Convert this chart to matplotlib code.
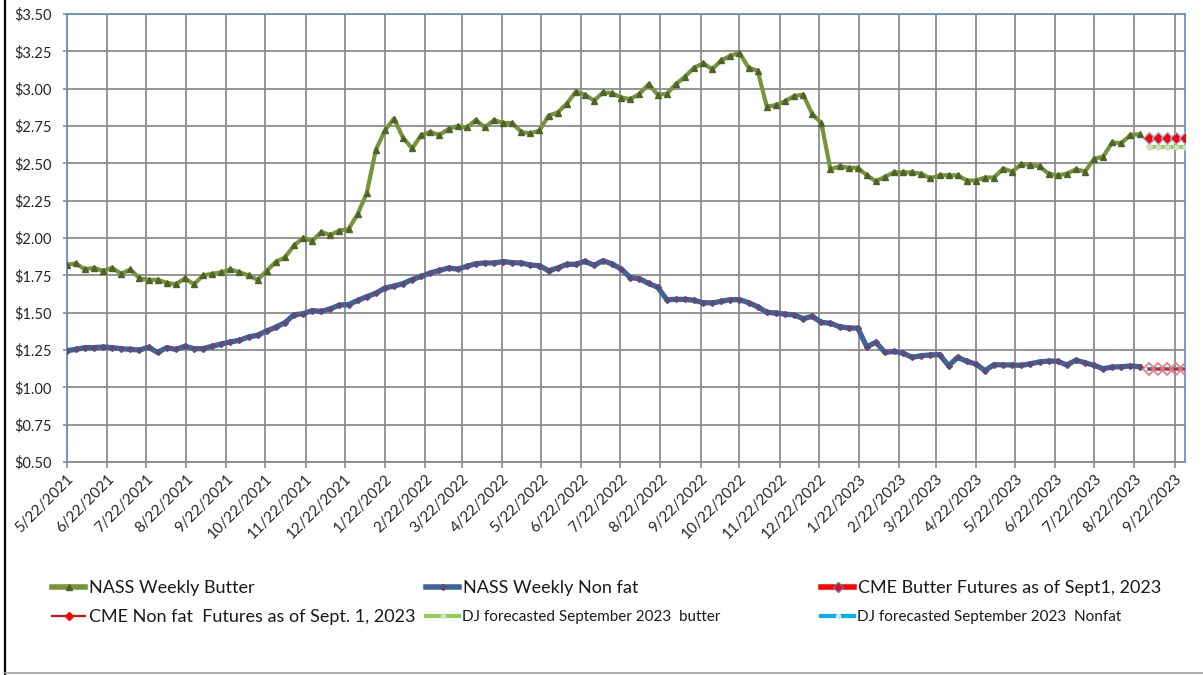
import matplotlib
matplotlib.use("Agg")
import matplotlib.pyplot as plt
import matplotlib.font_manager as fm
from matplotlib.lines import Line2D
from matplotlib.ticker import FuncFormatter
import pandas as pd

# ---------------- data ----------------
nass_start = "2021-05-22"
futures_start = "2023-09-02"

butter = [1.82, 1.83, 1.79, 1.80, 1.78, 1.80, 1.76, 1.79, 1.73, 1.72,
          1.72, 1.70, 1.69, 1.73, 1.69, 1.75, 1.76, 1.77, 1.79, 1.77,
          1.75, 1.72, 1.78, 1.84, 1.87, 1.95, 2.00, 1.98, 2.04, 2.02,
          2.05, 2.06, 2.16, 2.30, 2.59, 2.72, 2.80, 2.67, 2.60, 2.69,
          2.71, 2.69, 2.73, 2.75, 2.74, 2.79, 2.74, 2.79, 2.77, 2.77,
          2.71, 2.70, 2.72, 2.82, 2.84, 2.90, 2.98, 2.96, 2.92, 2.975,
          2.97, 2.94, 2.93, 2.965, 3.03, 2.96, 2.965, 3.03, 3.08, 3.14,
          3.17, 3.13, 3.19, 3.22, 3.24, 3.14, 3.12, 2.88, 2.89, 2.915,
          2.95, 2.96, 2.83, 2.77, 2.46, 2.48, 2.47, 2.47, 2.42, 2.38,
          2.41, 2.44, 2.44, 2.44, 2.43, 2.40, 2.42, 2.42, 2.42, 2.385,
          2.385, 2.405, 2.405, 2.465, 2.445, 2.495, 2.49, 2.48, 2.43, 2.42,
          2.43, 2.46, 2.445, 2.53, 2.545, 2.64, 2.635, 2.69, 2.695]

nonfat = [1.246, 1.254, 1.266, 1.266, 1.270, 1.266, 1.259, 1.254, 1.250, 1.268,
          1.234, 1.266, 1.254, 1.275, 1.259, 1.259, 1.275, 1.290, 1.304, 1.315,
          1.337, 1.349, 1.378, 1.402, 1.433, 1.486, 1.493, 1.514, 1.508, 1.526,
          1.551, 1.554, 1.582, 1.607, 1.630, 1.665, 1.678, 1.695, 1.722, 1.743,
          1.766, 1.783, 1.799, 1.792, 1.810, 1.828, 1.833, 1.833, 1.842, 1.835,
          1.833, 1.819, 1.815, 1.781, 1.799, 1.824, 1.824, 1.844, 1.817, 1.848,
          1.826, 1.792, 1.735, 1.727, 1.696, 1.670, 1.587, 1.589, 1.589, 1.583,
          1.567, 1.565, 1.576, 1.587, 1.587, 1.567, 1.540, 1.502, 1.498, 1.490,
          1.485, 1.460, 1.475, 1.435, 1.429, 1.406, 1.397, 1.397, 1.272, 1.301,
          1.234, 1.241, 1.228, 1.201, 1.212, 1.217, 1.219, 1.145, 1.201, 1.174,
          1.156, 1.112, 1.152, 1.150, 1.150, 1.147, 1.158, 1.170, 1.176, 1.174,
          1.150, 1.181, 1.165, 1.147, 1.125, 1.136, 1.138, 1.143, 1.138]

cme_butter = [2.67, 2.67, 2.67, 2.67, 2.67]
dj_butter = [2.61, 2.61, 2.61, 2.61, 2.61]
cme_nonfat = [1.12, 1.12, 1.12, 1.12, 1.12]
dj_nonfat = [1.12, 1.12, 1.12, 1.12, 1.12]

labels = ["NASS Weekly Butter", "NASS Weekly Non fat",
          "CME Butter Futures as of Sept1, 2023",
          "CME Non fat  Futures as of Sept. 1, 2023",
          "DJ forecasted September 2023  butter",
          "DJ forecasted September 2023  Nonfat"]

tick_dates = pd.date_range("2021-05-22", "2023-09-22", freq=pd.DateOffset(months=1))
tick_labels = [f"{d.month}/{d.day}/{d.year}" for d in tick_dates]
y_ticks = [0.50, 0.75, 1.00, 1.25, 1.50, 1.75, 2.00, 2.25, 2.50, 2.75, 3.00, 3.25, 3.50]

nass_dates = pd.date_range(nass_start, periods=len(butter), freq="7D")
fut_dates = pd.date_range(futures_start, periods=len(cme_butter), freq="7D")

# ---------------- figure ----------------
W, H = 1203, 675
plt.rcParams["font.family"] = ["Lato", "DejaVu Sans"]
fig = plt.figure(figsize=(W / 100, H / 100), dpi=100)
ax = fig.add_axes([66.7 / W, 1 - 462 / H, (1185 - 66.7) / W, (462 - 14) / H])

ax.plot(nass_dates, butter, color="#77933C", lw=3.0, marker="^",
        ms=4.5, mfc="#4F6228", mec="#4F6228", zorder=3)
ax.plot(nass_dates, nonfat, color="#3F6598", lw=3.8, marker="D",
        ms=3.0, mfc="#604A7B", mec="#604A7B", zorder=3)
ax.plot(fut_dates, cme_butter, color="#FF0000", lw=2.2, marker="D",
        ms=6, mfc="#FF0000", mec="#95B3D7", mew=1.0, zorder=4)
ax.plot(fut_dates, dj_butter, color="#92D050", lw=3.0, marker="o",
        ms=3.5, mfc="#D9D9D9", mec="#C4E0A8", zorder=3)
ax.plot(fut_dates, cme_nonfat, color="#FF0000", lw=1.2, marker="D",
        ms=6.5, mfc="none", mec="#FF6F6F", mew=1.2, zorder=5)
ax.plot(fut_dates, dj_nonfat, color="#00B0F0", lw=3.0, zorder=4)

ax.set_xlim(pd.Timestamp("2021-05-22"), pd.Timestamp("2023-09-30"))
ax.set_ylim(0.5, 3.5)
ax.set_yticks(y_ticks)
ax.yaxis.set_major_formatter(FuncFormatter(lambda v, p: f"${v:.2f}"))
ax.set_xticks(tick_dates)
ax.set_xticklabels(tick_labels, rotation=45, ha="right", rotation_mode="anchor")

ax.grid(True, color="#8C8C8C", lw=1.3)
ax.set_axisbelow(True)
for s in ["left", "top", "right"]:
    ax.spines[s].set_color("#5B8BD0")
    ax.spines[s].set_linewidth(1.2)
ax.spines["bottom"].set_color("#8C8C8C")
ax.spines["bottom"].set_linewidth(1.3)
ax.tick_params(axis="x", length=4, width=1.2, color="#8C8C8C", labelsize=11,
               pad=3, labelcolor="#262626")
ax.tick_params(axis="y", length=3, width=1.2, color="#8C8C8C", labelsize=10.5,
               pad=7.5, labelcolor="#262626")

# ---------------- legend ----------------
proxy_cme_n = Line2D([], [], color="#FF0000", lw=1.5, marker="D", ms=4,
                     mfc="#FF0000", mec="#FF0000")
proxy_butter = Line2D([], [], color="#77933C", lw=4, marker="^", ms=4,
                      mfc="#4F6228", mec="#4F6228")
proxy_nonfat = Line2D([], [], color="#3F6598", lw=4, marker="D", ms=3,
                      mfc="#604A7B", mec="#604A7B")
proxy_cme_b = Line2D([], [], color="#FF0000", lw=4, marker="D", ms=5,
                     mfc="#FF0000", mec="#4F81BD")
proxy_dj_b = Line2D([], [], color="#92D050", lw=3, marker="o", ms=3,
                    mfc="#D9D9D9", mec="#D9D9D9")
proxy_dj_n = Line2D([], [], color="#00B0F0", lw=3, marker="o", ms=3,
                    mfc="#D9EAF7", mec="#D9EAF7")

big = 13
small = 11
entries = [
    (proxy_butter, labels[0], 52, 588, big),
    (proxy_cme_n, labels[3], 52, 617, big),
    (proxy_nonfat, labels[1], 426, 588, big),
    (proxy_dj_b, labels[4], 426, 617, small),
    (proxy_cme_b, labels[2], 821, 588, big),
    (proxy_dj_n, labels[5], 821, 617, small),
]
for h, lab, x, y, fs in entries:
    hl = 33 / (fs * 100 / 72)
    leg = fig.legend([h], [lab], loc="center left",
                     bbox_to_anchor=(x / W, 1 - y / H),
                     frameon=False, borderpad=0, borderaxespad=0,
                     handlelength=hl, handletextpad=0.2, numpoints=1,
                     prop=fm.FontProperties(family=["Lato"], size=fs))
    for t in leg.get_texts():
        t.set_color("#1a1a1a")

# outer frame (left black line, bottom grey line)
fig.add_artist(Line2D([5 / W, 5 / W], [0, 1], transform=fig.transFigure,
                      color="black", lw=1.6))
fig.add_artist(Line2D([5 / W, 1], [1 - 673 / H, 1 - 673 / H],
                      transform=fig.transFigure, color="#A0A0A0", lw=1.2))

fig.savefig("out.png", dpi=100)
